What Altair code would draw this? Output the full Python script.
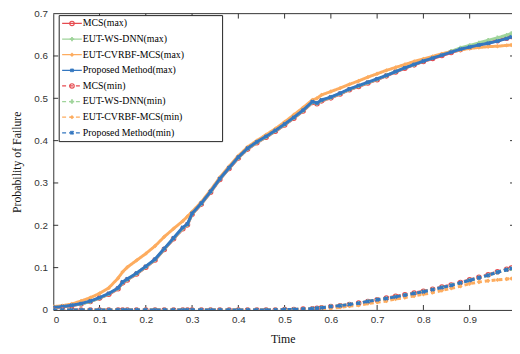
import altair as alt
import pandas as pd

T = [0.00, 0.02, 0.04, 0.06, 0.08, 0.10, 0.12, 0.14, 0.15, 0.16, 0.18, 0.20, 0.22, 0.24, 0.26, 0.28,
     0.29, 0.30, 0.32, 0.34, 0.36, 0.38, 0.40, 0.42, 0.44, 0.46, 0.48, 0.50, 0.52, 0.54, 0.56, 0.57,
     0.58, 0.60, 0.62, 0.64, 0.66, 0.68, 0.70, 0.72, 0.74, 0.76, 0.78, 0.80, 0.82, 0.84, 0.86, 0.88,
     0.90, 0.92, 0.94, 0.96, 0.98, 0.99]

MCS_MAX = [0.005, 0.007, 0.010, 0.014, 0.020, 0.028, 0.037, 0.050, 0.064, 0.071, 0.085, 0.101, 0.118, 0.143, 0.168, 0.192,
           0.201, 0.226, 0.250, 0.278, 0.308, 0.334, 0.359, 0.380, 0.395, 0.408, 0.422, 0.437, 0.453, 0.470, 0.490, 0.487,
           0.494, 0.501, 0.510, 0.520, 0.528, 0.536, 0.544, 0.553, 0.562, 0.571, 0.579, 0.587, 0.594, 0.601, 0.608, 0.615,
           0.620, 0.626, 0.631, 0.636, 0.642, 0.646]
WS_MAX = [0.006, 0.008, 0.011, 0.014, 0.020, 0.028, 0.038, 0.051, 0.065, 0.072, 0.086, 0.102, 0.119, 0.144, 0.169, 0.193,
          0.202, 0.227, 0.251, 0.279, 0.309, 0.335, 0.360, 0.381, 0.396, 0.409, 0.423, 0.438, 0.454, 0.471, 0.491, 0.488,
          0.495, 0.502, 0.511, 0.521, 0.529, 0.537, 0.545, 0.554, 0.563, 0.572, 0.580, 0.588, 0.596, 0.604, 0.611, 0.619,
          0.625, 0.631, 0.637, 0.643, 0.649, 0.653]
CV_MAX = [0.008, 0.010, 0.014, 0.021, 0.029, 0.039, 0.052, 0.075, 0.090, 0.101, 0.117, 0.133, 0.151, 0.173, 0.192, 0.210,
          0.221, 0.232, 0.255, 0.283, 0.313, 0.339, 0.364, 0.385, 0.400, 0.414, 0.428, 0.444, 0.461, 0.478, 0.496, 0.500,
          0.508, 0.516, 0.524, 0.533, 0.541, 0.550, 0.558, 0.566, 0.573, 0.580, 0.587, 0.593, 0.599, 0.605, 0.610, 0.614,
          0.618, 0.620, 0.622, 0.623, 0.625, 0.626]
PM_MAX = [0.006, 0.008, 0.011, 0.015, 0.021, 0.029, 0.039, 0.052, 0.066, 0.073, 0.087, 0.103, 0.120, 0.145, 0.170, 0.195,
          0.203, 0.228, 0.252, 0.280, 0.310, 0.336, 0.361, 0.382, 0.397, 0.410, 0.424, 0.439, 0.455, 0.472, 0.492, 0.489,
          0.496, 0.503, 0.512, 0.522, 0.530, 0.538, 0.546, 0.554, 0.563, 0.572, 0.580, 0.588, 0.595, 0.602, 0.609, 0.616,
          0.621, 0.626, 0.630, 0.635, 0.641, 0.645]

MCS_MIN = [0.000, 0.000, 0.000, 0.000, 0.000, 0.000, 0.000, 0.000, 0.000, 0.000, 0.000, 0.000, 0.000, 0.000, 0.000, 0.000,
           0.000, 0.000, 0.000, 0.000, 0.000, 0.000, 0.000, 0.000, 0.000, 0.000, 0.000, 0.001, 0.001, 0.002, 0.003, 0.004,
           0.005, 0.008, 0.010, 0.013, 0.016, 0.020, 0.024, 0.028, 0.032, 0.036, 0.040, 0.044, 0.049, 0.054, 0.059, 0.065,
           0.071, 0.077, 0.083, 0.090, 0.096, 0.099]
WS_MIN = [0.000, 0.000, 0.000, 0.000, 0.000, 0.000, 0.000, 0.000, 0.000, 0.000, 0.000, 0.000, 0.000, 0.000, 0.000, 0.000,
          0.000, 0.000, 0.000, 0.000, 0.000, 0.000, 0.000, 0.000, 0.000, 0.000, 0.000, 0.001, 0.001, 0.002, 0.003, 0.004,
          0.005, 0.008, 0.010, 0.013, 0.016, 0.020, 0.024, 0.027, 0.031, 0.035, 0.039, 0.043, 0.048, 0.053, 0.058, 0.064,
          0.070, 0.076, 0.082, 0.089, 0.095, 0.097]
CV_MIN = [0.000, 0.000, 0.000, 0.000, 0.000, 0.000, 0.000, 0.000, 0.000, 0.000, 0.000, 0.000, 0.000, 0.000, 0.000, 0.000,
          0.000, 0.000, 0.000, 0.000, 0.000, 0.000, 0.000, 0.000, 0.000, 0.000, 0.000, 0.000, 0.000, 0.000, 0.000, 0.001,
          0.002, 0.004, 0.006, 0.009, 0.011, 0.015, 0.018, 0.021, 0.026, 0.029, 0.033, 0.037, 0.041, 0.046, 0.051, 0.056,
          0.062, 0.066, 0.069, 0.071, 0.073, 0.074]
PM_MIN = [0.000, 0.000, 0.000, 0.000, 0.000, 0.000, 0.000, 0.000, 0.000, 0.000, 0.000, 0.000, 0.000, 0.000, 0.000, 0.000,
          0.000, 0.000, 0.000, 0.000, 0.000, 0.000, 0.000, 0.000, 0.000, 0.000, 0.000, 0.001, 0.001, 0.002, 0.003, 0.004,
          0.005, 0.008, 0.010, 0.013, 0.016, 0.020, 0.024, 0.027, 0.031, 0.035, 0.039, 0.043, 0.048, 0.053, 0.058, 0.064,
          0.070, 0.076, 0.082, 0.089, 0.095, 0.098]

LABELS = ["MCS(max)", "EUT-WS-DNN(max)", "EUT-CVRBF-MCS(max)", "Proposed Method(max)",
          "MCS(min)", "EUT-WS-DNN(min)", "EUT-CVRBF-MCS(min)", "Proposed Method(min)"]
VALUES = [MCS_MAX, WS_MAX, CV_MAX, PM_MAX, MCS_MIN, WS_MIN, CV_MIN, PM_MIN]

X_TICKS = [0, 0.1, 0.2, 0.3, 0.4, 0.5, 0.6, 0.7, 0.8, 0.9]
Y_TICKS = [0, 0.1, 0.2, 0.3, 0.4, 0.5, 0.6, 0.7]

# styles
RED, GREEN, ORANGE, BLUE = "#e64b50", "#9fd49a", "#fdac5f", "#3477c0"
COLORS = [RED, GREEN, ORANGE, BLUE] * 2
SHAPES = ["circle", "cross", "diamond", "cross"] * 2
ANGLES = [0, 0, 0, 45] * 2
FILLED = [False, True, True, True] * 2
DASHES = [[1, 0]] * 4 + [[4, 3]] * 4

W, H = 466, 301
XMAX = 0.9915
YMAX = 0.7

def xenc(field):
    return alt.X(field, type="quantitative",
                 scale=alt.Scale(domain=[0, XMAX], nice=False, zero=False),
                 axis=alt.Axis(values=X_TICKS, format="~g", title="Time", ticks=False, grid=False,
                               labelPadding=5, titlePadding=9))

def yenc(field):
    return alt.Y(field, type="quantitative",
                 scale=alt.Scale(domain=[0, YMAX], nice=False),
                 axis=alt.Axis(values=Y_TICKS, format="~g", title="Probability of Failure", ticks=False,
                               grid=False, labelPadding=6, titlePadding=10))

def ypix(py):
    # plot-pixel offset from top -> data value (used for legend / tick placement)
    return YMAX * (1 - py / H)

def point_style(i):
    pt = dict(shape=SHAPES[i], size=20, angle=ANGLES[i], opacity=1)
    if FILLED[i]:
        pt.update(filled=True, color=COLORS[i])
    else:
        pt.update(filled=False, color=COLORS[i], strokeWidth=1.2)
    return pt

layers = []

# inward ticks and top frame
bt = pd.DataFrame({"t": X_TICKS[1:]})
lt = pd.DataFrame({"v": Y_TICKS[1:-1]})
tick_style = dict(color="#333", strokeWidth=1)
layers.append(alt.Chart(bt).mark_rule(**tick_style).encode(x=xenc("t"), y=alt.datum(0), y2=alt.datum(ypix(H - 5))))
layers.append(alt.Chart(bt).mark_rule(**tick_style).encode(x=xenc("t"), y=alt.datum(YMAX), y2=alt.datum(ypix(5))))
layers.append(alt.Chart(lt).mark_rule(**tick_style).encode(y=yenc("v"), x=alt.datum(0), x2=alt.datum(XMAX * 5 / W)))
layers.append(alt.Chart(lt).mark_rule(**tick_style, clip=True).encode(y=yenc("v"), x=alt.datum(XMAX - XMAX * 2 / W), x2=alt.datum(XMAX)))
layers.append(alt.Chart(pd.DataFrame({"v": [YMAX]})).mark_rule(color="#333", strokeWidth=1).encode(y=yenc("v")))

# data series
for i, (lab, vals) in enumerate(zip(LABELS, VALUES)):
    df = pd.DataFrame({"t": T, "p": vals, "series": lab})
    base = alt.Chart(df)
    layers.append(base.mark_line(color=COLORS[i], strokeWidth=3, strokeDash=DASHES[i], clip=True)
                  .encode(x=xenc("t"), y=yenc("p")))
    layers.append(base.mark_point(clip=True, **point_style(i)).encode(x=xenc("t"), y=yenc("p")))

# legend box
layers.append(alt.Chart(pd.DataFrame({"a": [0]})).mark_rect(fill="white", stroke="#222", strokeWidth=1)
              .encode(x=alt.value(6), x2=alt.value(172), y=alt.datum(ypix(2)), y2=alt.datum(ypix(130))))
for i, lab in enumerate(LABELS):
    ly = ypix(10 + i * 15.86)
    ld = pd.DataFrame({"label": [lab], "ly": [ly]})
    lc = alt.Chart(ld)
    layers.append(lc.mark_rule(color=COLORS[i], strokeWidth=1.3, strokeDash=DASHES[i])
                  .encode(x=alt.value(9), x2=alt.value(29), y=yenc("ly")))
    layers.append(lc.mark_point(**point_style(i)).encode(x=alt.value(19), y=yenc("ly")))
    layers.append(lc.mark_text(align="left", baseline="middle", font="Liberation Serif", fontSize=10, color="black")
                  .encode(x=alt.value(30), y=yenc("ly"), text="label:N"))

chart = alt.layer(*layers).properties(
    width=W, height=H,
    autosize=alt.AutoSizeParams(type="none"),
    padding={"left": 46, "top": 3, "right": 0, "bottom": 40},
).configure_view(stroke=None).configure_axis(
    labelFont="Liberation Sans", labelFontSize=10, labelColor="#333",
    titleFont="Liberation Serif", titleFontSize=12, titleFontWeight="normal", titleColor="#111",
    domainColor="#333", domainWidth=1,
)

chart.save("out.html", embed_options={"renderer": "svg", "actions": False})
